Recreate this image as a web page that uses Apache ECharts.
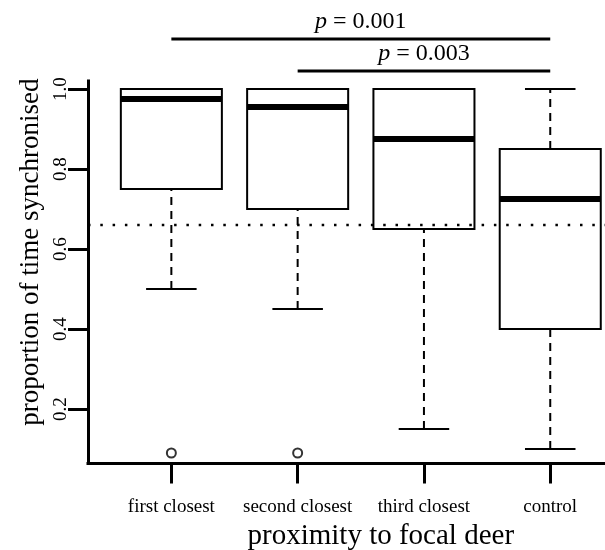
<!DOCTYPE html>
<html><head><meta charset="utf-8">
<script src="https://cdn.jsdelivr.net/npm/echarts@6/dist/echarts.min.js"></script>
<style>html,body{margin:0;padding:0;background:#fff}#c{width:605px;height:550px}</style>
</head><body><div id="c"></div>
<script>
// ---- data ----
const categories = ['first closest', 'second closest', 'third closest', 'control'];
const whiskerLow = [0.50, 0.45, 0.15, 0.10];
const lowerQuartile = [0.75, 0.70, 0.65, 0.40];
const medians = [0.975, 0.955, 0.875, 0.725];
const upperQuartile = [1.00, 1.00, 1.00, 0.85];
const whiskerHigh = [1.00, 1.00, 1.00, 1.00];
const outlierGroup = [1, 2];
const outlierValue = [0.09, 0.09];
const referenceLevel = 0.66;
const yTicks = [0.2, 0.4, 0.6, 0.8, 1.0];
const comparisonFrom = [1, 2];
const comparisonTo = [4, 4];
const comparisonP = ['0.001', '0.003'];
const comparisonHeight = [1.125, 1.045];

// ---- chart ----
const FONT = '"Liberation Serif", "Times New Roman", serif';
const positions = categories.map((c, i) => i + 1);
const boxData = categories.map((c, i) => [positions[i], whiskerLow[i], lowerQuartile[i], medians[i], upperQuartile[i], whiskerHigh[i]]);
const outlierData = outlierGroup.map((g, i) => [g, outlierValue[i]]);
const compData = comparisonFrom.map((f, i) => [f, comparisonTo[i], comparisonHeight[i], comparisonP[i]]);

const chart = echarts.init(document.getElementById('c'), null, {renderer: 'canvas'});
const BOXWEX = 0.8;

chart.setOption({
  animation: false,
  backgroundColor: '#fff',
  grid: {left: 88, right: -28.6, top: 81, bottom: 86.6, containLabel: false, outerBoundsMode: 'none'},
  xAxis: {
    type: 'value', min: 0.34, max: 4.66,
    axisLine: {show: true, lineStyle: {color: '#000', width: 3, cap: 'square'}},
    axisTick: {show: true, customValues: positions, length: 20, lineStyle: {color: '#000', width: 3}},
    axisLabel: {customValues: positions, formatter: v => categories[Math.round(v) - 1], color: '#000',
      fontFamily: FONT, fontSize: 19, margin: 34},
    splitLine: {show: false},
    name: 'proximity to focal deer', nameLocation: 'middle', nameGap: 58,
    nameTextStyle: {fontFamily: FONT, fontSize: 29, color: '#000', padding: [0, 0, 0, 40]}
  },
  yAxis: {
    type: 'value', min: 0.064, max: 1.02,
    axisLine: {show: true, lineStyle: {color: '#000', width: 3, cap: 'square'}},
    axisTick: {show: true, customValues: yTicks, length: 20, lineStyle: {color: '#000', width: 3}},
    axisLabel: {customValues: yTicks, formatter: v => v.toFixed(1), rotate: 90, color: '#000',
      fontFamily: FONT, fontSize: 19, margin: 17},
    splitLine: {show: false},
    name: 'proportion of time synchronised', nameLocation: 'middle', nameGap: 40, nameRotate: 90,
    nameTextStyle: {fontFamily: FONT, fontSize: 27, color: '#000', padding: [0, 0, 0, 40]}
  },
  series: [
    {
      type: 'custom', name: 'boxes', data: boxData, z: 2,
      encode: {x: 0, y: [1, 2, 3, 4, 5]},
      renderItem: function (params, api) {
        const x = api.value(0);
        const lo = api.value(1), q1 = api.value(2), med = api.value(3), q3 = api.value(4), hi = api.value(5);
        const half = api.size([BOXWEX, 0])[0] / 2;
        const staple = half / 2;
        const pLo = api.coord([x, lo]), pQ1 = api.coord([x, q1]), pMed = api.coord([x, med]);
        const pQ3 = api.coord([x, q3]), pHi = api.coord([x, hi]);
        const cx = pLo[0];
        const dash = {stroke: '#000', lineWidth: 2, lineDash: [8, 6]};
        const solid = {stroke: '#000', lineWidth: 2};
        const children = [
          {type: 'line', shape: {x1: cx, y1: pLo[1], x2: cx, y2: pQ1[1]}, style: dash},
          {type: 'line', shape: {x1: cx - staple, y1: pLo[1], x2: cx + staple, y2: pLo[1]}, style: solid}
        ];
        if (hi > q3) {
          children.push({type: 'line', shape: {x1: cx, y1: pQ3[1], x2: cx, y2: pHi[1]}, style: dash});
        }
        children.push({type: 'line', shape: {x1: cx - staple, y1: pHi[1], x2: cx + staple, y2: pHi[1]}, style: solid});
        children.push({type: 'rect', shape: {x: cx - half, y: pQ3[1], width: 2 * half, height: pQ1[1] - pQ3[1]},
          style: {fill: '#fff', stroke: '#000', lineWidth: 2}});
        children.push({type: 'line', shape: {x1: cx - half, y1: pMed[1], x2: cx + half, y2: pMed[1]},
          style: {stroke: '#000', lineWidth: 6}});
        return {type: 'group', children: children};
      }
    },
    {
      type: 'scatter', name: 'outliers', data: outlierData, symbol: 'emptyCircle', symbolSize: 9, z: 3,
      itemStyle: {color: '#000', borderColor: '#000', borderWidth: 2.2}
    },
    {
      type: 'custom', name: 'reference', data: [[positions[0], referenceLevel]], z: 4,
      renderItem: function (params, api) {
        const cs = params.coordSys;
        const y = api.coord([api.value(0), api.value(1)])[1];
        return {type: 'line', shape: {x1: cs.x, y1: y, x2: cs.x + cs.width, y2: y},
          style: {stroke: '#000', lineWidth: 2.5, lineDash: [2.5, 9.8]}};
      }
    },
    {
      type: 'custom', name: 'comparisons', data: compData, clip: false, z: 5,
      renderItem: function (params, api) {
        const a = api.coord([api.value(0), api.value(2)]);
        const b = api.coord([api.value(1), api.value(2)]);
        return {type: 'group', children: [
          {type: 'line', shape: {x1: a[0], y1: a[1], x2: b[0], y2: b[1]}, style: {stroke: '#000', lineWidth: 3}},
          {type: 'text', x: (a[0] + b[0]) / 2, y: a[1] - 5, style: {
            text: '{i|p} = ' + compData[params.dataIndex][3],
            align: 'center', verticalAlign: 'bottom', fill: '#000', fontFamily: FONT, fontSize: 24,
            rich: {i: {fontStyle: 'italic', fontFamily: FONT, fontSize: 24, fill: '#000'}}
          }}
        ]};
      }
    }
  ]
});
</script>
</body></html>
